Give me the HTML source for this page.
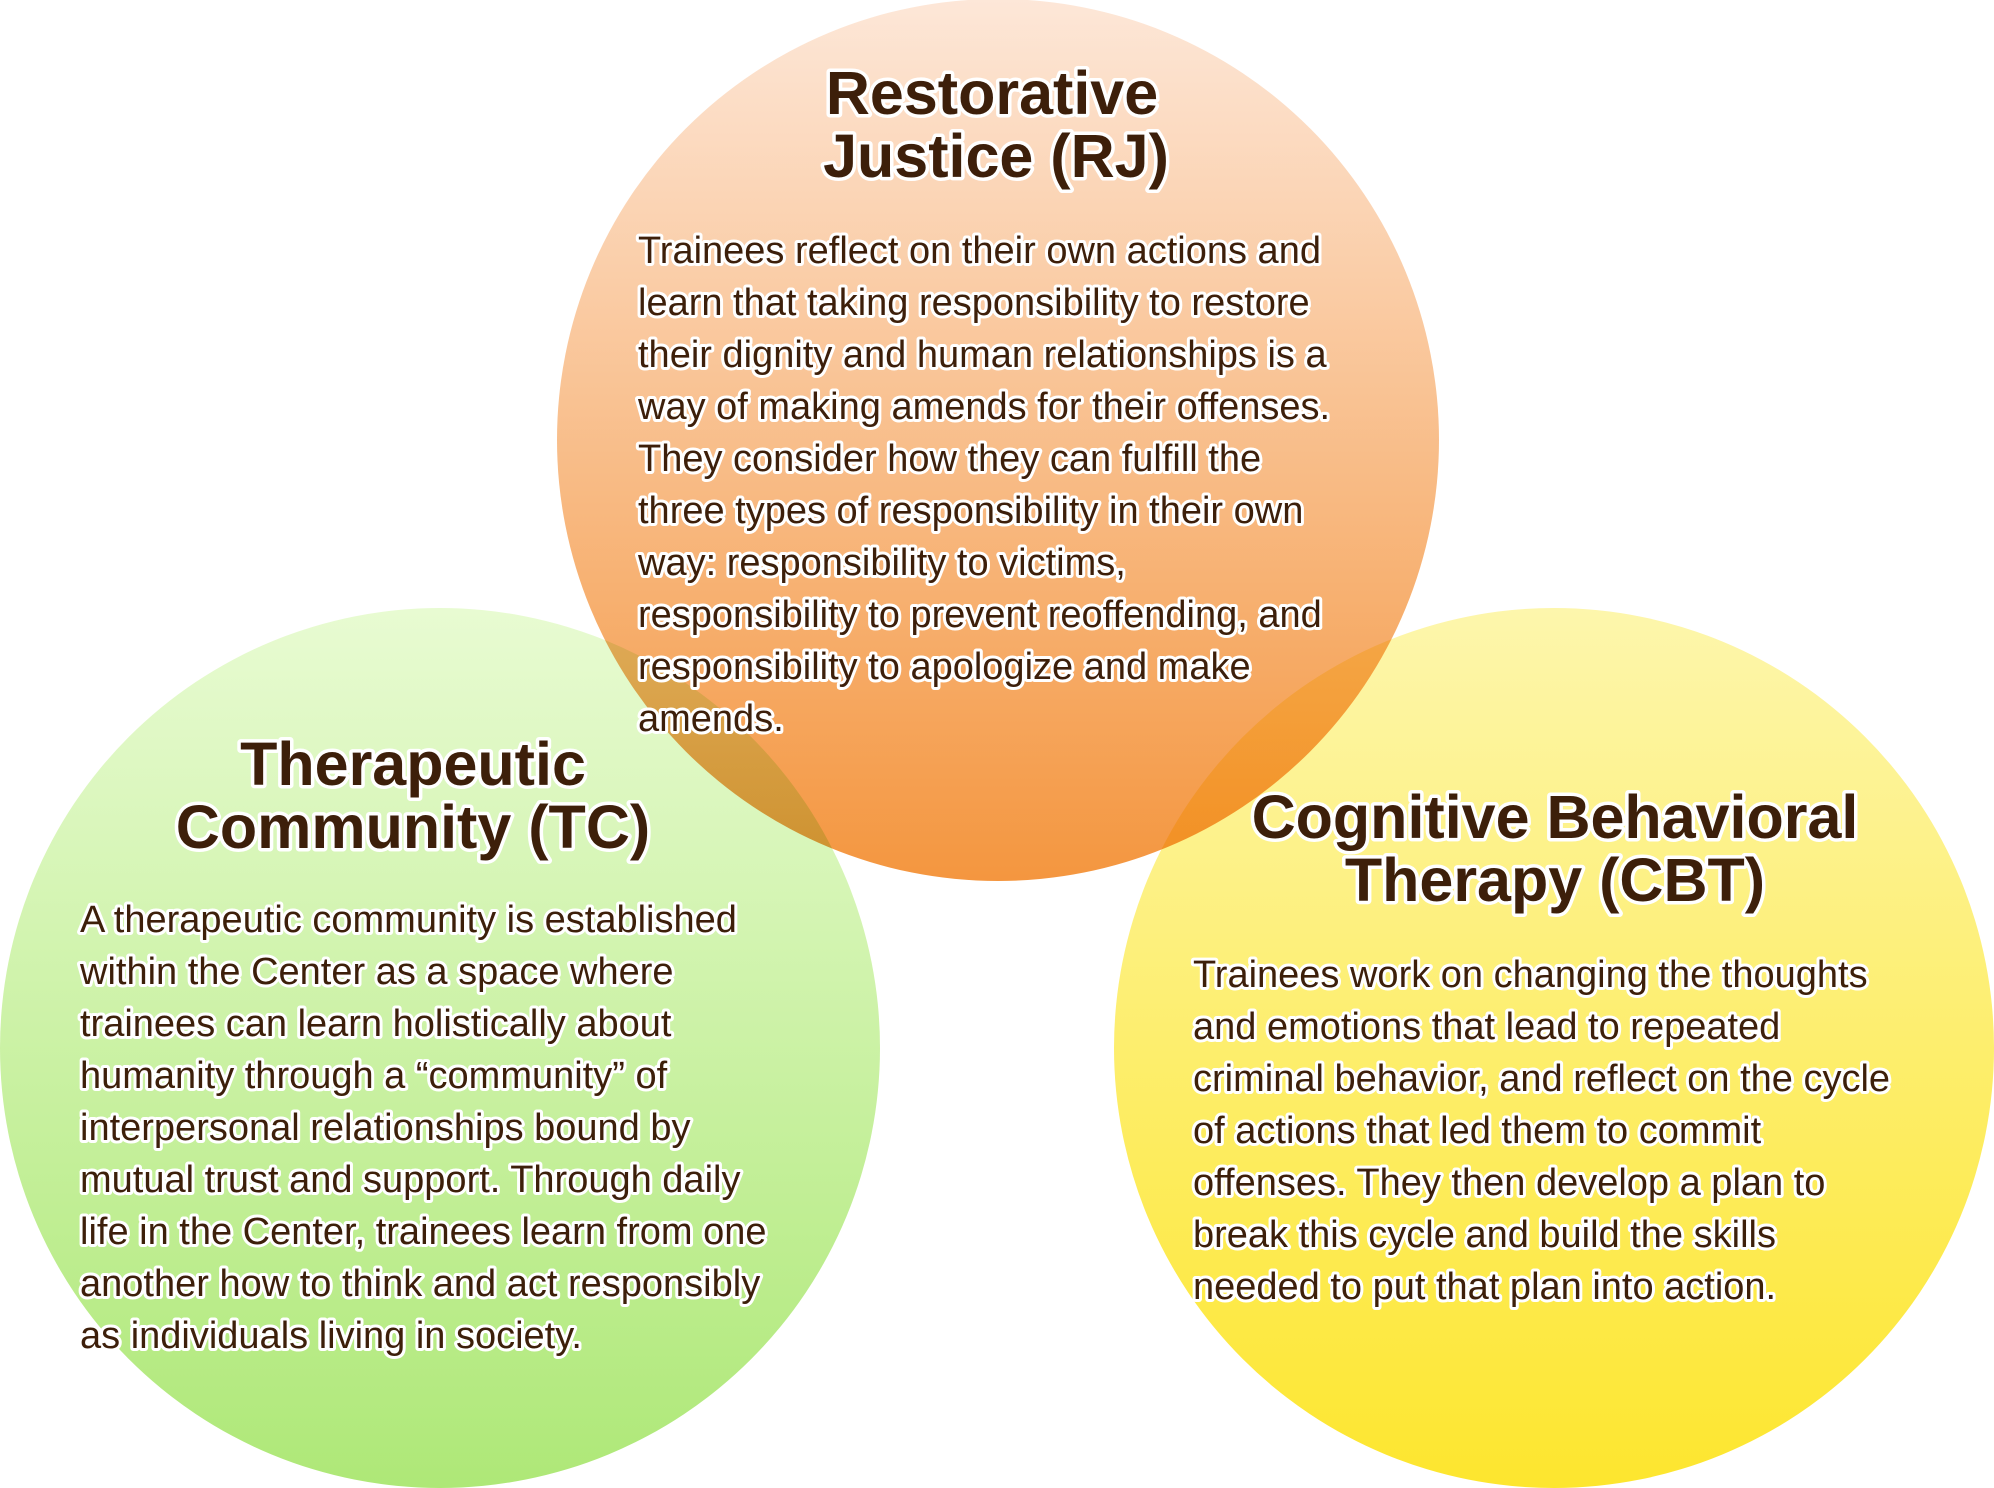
<!DOCTYPE html>
<html><head><meta charset="utf-8"><style>
html,body{margin:0;padding:0;background:#fff;}
svg{display:block}
.t{font-family:"Liberation Sans",sans-serif;font-weight:bold;fill:#3d1f0a;stroke:#fff;stroke-width:7px;paint-order:stroke;stroke-linejoin:round;}
.h{font-size:61px;text-anchor:middle;}
.b{font-size:38px;font-weight:normal;stroke-width:6px;}
</style></head><body>
<svg width="1994" height="1488" viewBox="0 0 1994 1488" xmlns="http://www.w3.org/2000/svg">
<defs>
<linearGradient id="gr" x1="0" y1="0" x2="0" y2="1"><stop offset="0" stop-color="#fde7d8"/><stop offset="1" stop-color="#f4963f"/></linearGradient>
<linearGradient id="gg" x1="0" y1="0" x2="0" y2="1"><stop offset="0" stop-color="#e8fbd2"/><stop offset="1" stop-color="#aee877"/></linearGradient>
<linearGradient id="gy" x1="0" y1="0" x2="0" y2="1"><stop offset="0" stop-color="#fdf6ac"/><stop offset="1" stop-color="#fde62e"/></linearGradient>
</defs>
<circle cx="440" cy="1048" r="440" fill="url(#gg)"/>
<circle cx="1554" cy="1048" r="440" fill="url(#gy)"/>
<circle cx="998" cy="440" r="441" fill="url(#gr)" style="mix-blend-mode:multiply"/>
<g class="t h">
<text x="992" y="114">Restorative</text>
<text x="996" y="177">Justice (RJ)</text>
<text x="413" y="785">Therapeutic</text>
<text x="413" y="848">Community (TC)</text>
<text x="1555" y="838">Cognitive Behavioral</text>
<text x="1555" y="901">Therapy (CBT)</text>
</g>
<g class="t b">
<text x="638" y="263">Trainees reflect on their own actions and</text>
<text x="638" y="315">learn that taking responsibility to restore</text>
<text x="638" y="367">their dignity and human relationships is a</text>
<text x="638" y="419">way of making amends for their offenses.</text>
<text x="638" y="471">They consider how they can fulfill the</text>
<text x="638" y="523">three types of responsibility in their own</text>
<text x="638" y="575">way: responsibility to victims,</text>
<text x="638" y="627">responsibility to prevent reoffending, and</text>
<text x="638" y="679">responsibility to apologize and make</text>
<text x="638" y="731">amends.</text>

<text x="80" y="932">A therapeutic community is established</text>
<text x="80" y="984">within the Center as a space where</text>
<text x="80" y="1036">trainees can learn holistically about</text>
<text x="80" y="1088">humanity through a “community” of</text>
<text x="80" y="1140">interpersonal relationships bound by</text>
<text x="80" y="1192">mutual trust and support. Through daily</text>
<text x="80" y="1244">life in the Center, trainees learn from one</text>
<text x="80" y="1296">another how to think and act responsibly</text>
<text x="80" y="1348">as individuals living in society.</text>

<text x="1193" y="987">Trainees work on changing the thoughts</text>
<text x="1193" y="1039">and emotions that lead to repeated</text>
<text x="1193" y="1091">criminal behavior, and reflect on the cycle</text>
<text x="1193" y="1143">of actions that led them to commit</text>
<text x="1193" y="1195">offenses. They then develop a plan to</text>
<text x="1193" y="1247">break this cycle and build the skills</text>
<text x="1193" y="1299">needed to put that plan into action.</text>
</g>
</svg>
</body></html>
